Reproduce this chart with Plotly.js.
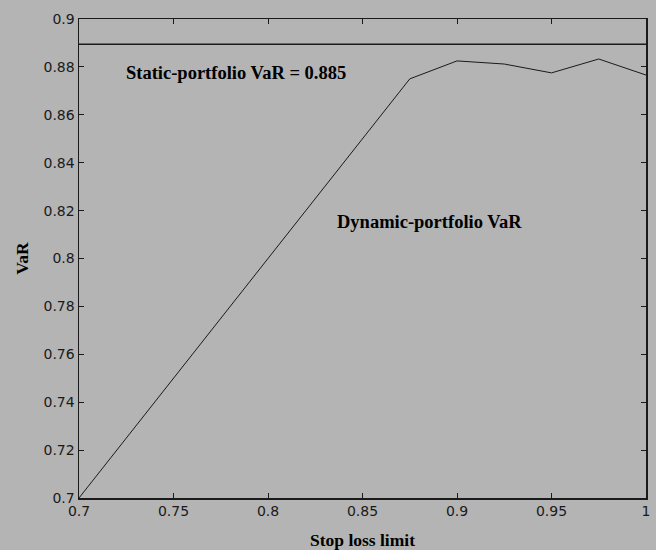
<!DOCTYPE html>
<html><head><meta charset="utf-8">
<script src="https://cdn.plot.ly/plotly-3.0.1.min.js"></script>
<style>html,body{margin:0;padding:0;background:#b4b4b4;}</style>
</head><body>
<div id="chart" style="width:656px;height:550px;"></div>
<script>
const stopLoss = [0.7, 0.725, 0.75, 0.775, 0.8, 0.825, 0.85, 0.875, 0.9, 0.925, 0.95, 0.975, 1.0];
const dynamicVaR = [0.7, 0.725, 0.75, 0.775, 0.8, 0.825, 0.85, 0.875, 0.8825, 0.8812, 0.8775, 0.8833, 0.8766];
const staticX = [0.7, 1.0];
const staticVaR = [0.8895, 0.8895];
const xTicks = [0.7, 0.75, 0.8, 0.85, 0.9, 0.95, 1];
const xTickText = ['0.7', '0.75', '0.8', '0.85', '0.9', '0.95', '1'];
const yTicks = [0.7, 0.72, 0.74, 0.76, 0.78, 0.8, 0.82, 0.84, 0.86, 0.88, 0.9];
const yTickText = ['0.7', '0.72', '0.74', '0.76', '0.78', '0.8', '0.82', '0.84', '0.86', '0.88', '0.9'];

const serif = 'Liberation Serif, Times New Roman, serif';
const sans = 'DejaVu Sans, Liberation Sans, sans-serif';

const traces = [
  {x: stopLoss, y: dynamicVaR, mode: 'lines', line: {color: '#1a1a1a', width: 1}, hoverinfo: 'skip'},
  {x: staticX, y: staticVaR, mode: 'lines', line: {color: '#1a1a1a', width: 1.5}, hoverinfo: 'skip'}
];
const axisCommon = {
  showgrid: false, zeroline: false, showline: true, linecolor: '#1a1a1a', linewidth: 1.5,
  mirror: 'ticks', ticks: 'inside', ticklen: 5, tickcolor: '#1a1a1a', tickwidth: 1,
  tickfont: {family: sans, size: 14, color: '#1a1a1a'}
};
const layout = {
  width: 656, height: 550,
  paper_bgcolor: '#b4b4b4', plot_bgcolor: '#b4b4b4',
  margin: {l: 79, r: 10, t: 19, b: 52},
  showlegend: false,
  xaxis: Object.assign({}, axisCommon, {
    range: [0.7, 1.0], tickvals: xTicks, ticktext: xTickText,
    title: {text: '<b>Stop loss limit</b>', font: {family: serif, size: 17.5, color: '#000'}, standoff: 15}
  }),
  yaxis: Object.assign({}, axisCommon, {
    range: [0.7, 0.9], tickvals: yTicks, ticktext: yTickText,
    title: {text: '<b>VaR</b>', font: {family: serif, size: 17.5, color: '#000'}, standoff: 10}
  }),
  annotations: [
    {x: 0.783, y: 0.8775, xref: 'x', yref: 'y', text: '<b>Static-portfolio VaR = 0.885</b>', showarrow: false,
     font: {family: serif, size: 18.5, color: '#000'}},
    {x: 0.8857, y: 0.8152, xref: 'x', yref: 'y', text: '<b>Dynamic-portfolio VaR</b>', showarrow: false,
     font: {family: serif, size: 18.5, color: '#000'}}
  ]
};
Plotly.newPlot('chart', traces, layout, {displayModeBar: false, staticPlot: true});
</script>
</body></html>
